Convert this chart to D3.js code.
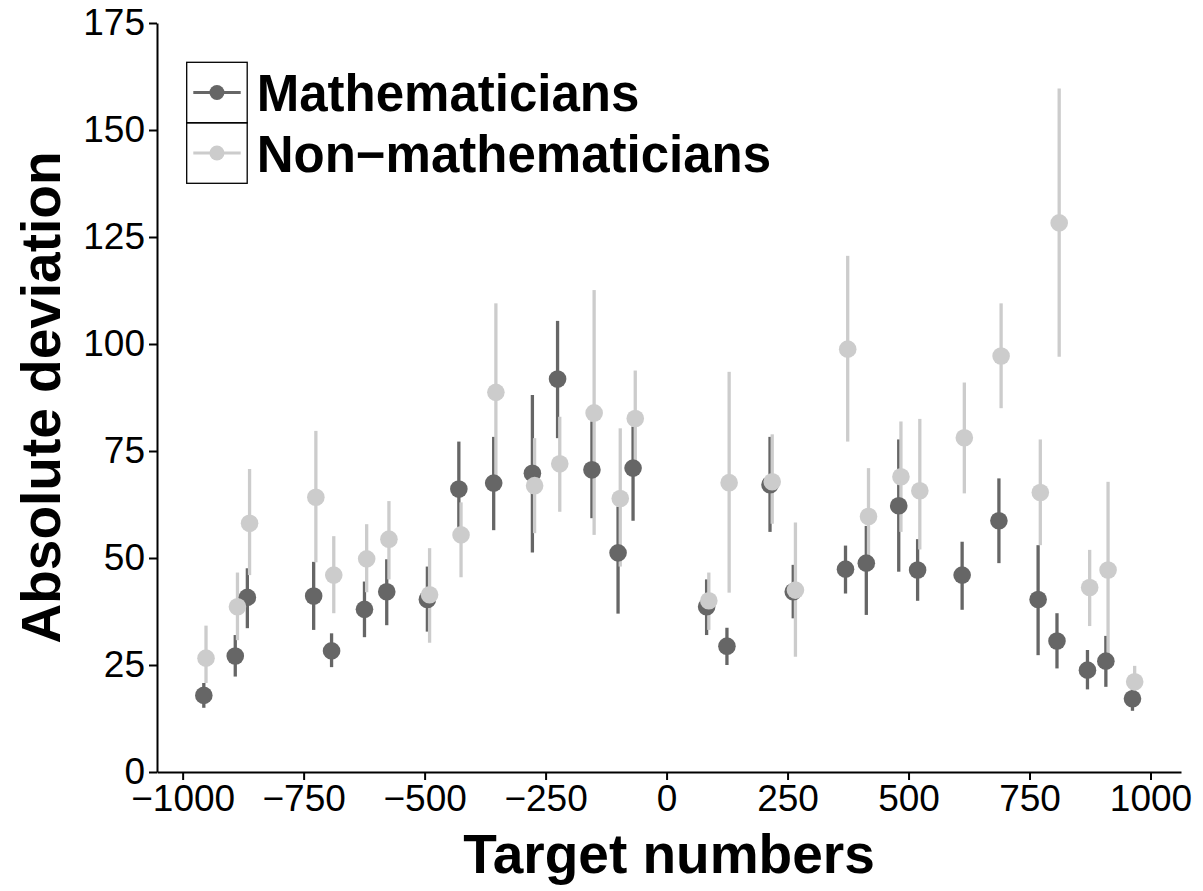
<!DOCTYPE html>
<html>
<head>
<meta charset="utf-8">
<script src="https://cdn.jsdelivr.net/npm/d3@7"></script>
<style>
  body { margin: 0; background: #fff; }
  .ejes text { font-family: "Liberation Sans", Arial, sans-serif; font-size: 37px; fill: #000; }
  .ejes path, .ejes line { stroke: #000; stroke-width: 2; }
  .labels { font-family: "Liberation Sans", Arial, sans-serif; font-size: 55px; font-weight: bold; }
  .leyenda { font-family: "Liberation Sans", Arial, sans-serif; font-size: 51px; font-weight: bold; }
</style>
</head>
<body>
<div id="graf"></div>
<script>
// datos: numero objetivo, media y extremos de la barra de error
const targets = [-954, -889, -864, -727, -690, -622, -576, -492, -427, -355, -275, -223, -152, -98, -67,
  85, 127, 216, 264, 372, 415, 482, 521, 613, 689, 770, 809, 872, 910, 965]

const mathMean = [17.9, 27.1, 40.8, 41.1, 28.3, 38.0, 42.1, 40.3, 66.1, 67.5, 69.8, 91.8, 70.6, 51.2, 71.0,
  38.6, 29.4, 67.1, 42.1, 47.4, 48.8, 62.2, 47.2, 46.0, 58.7, 40.3, 30.6, 23.8, 25.9, 17.1]
const mathLow = [15.0, 22.3, 33.6, 33.2, 24.5, 31.5, 34.3, 32.8, 55.0, 56.5, 51.3, 78.0, 59.3, 37.0, 58.7,
  32.0, 25.0, 56.1, 35.9, 41.7, 36.7, 46.8, 40.0, 37.9, 48.8, 27.3, 24.2, 19.3, 19.9, 14.3]
const mathHigh = [20.8, 32.0, 47.6, 49.1, 32.4, 44.5, 49.7, 48.0, 77.2, 78.3, 88.1, 105.4, 81.9, 62.0, 80.7,
  45.0, 33.7, 78.3, 48.4, 52.9, 57.5, 77.7, 54.4, 53.8, 68.6, 53.0, 37.1, 28.5, 31.8, 20.7]

const nonMean = [26.6, 38.6, 58.1, 64.2, 46.0, 49.8, 54.4, 41.4, 55.4, 88.7, 66.9, 72.0, 83.9, 63.9, 82.6,
  40.0, 67.6, 67.8, 42.5, 98.8, 59.7, 69.0, 65.7, 78.1, 97.2, 65.3, 128.3, 43.1, 47.2, 21.1]
const nonLow = [20.8, 30.8, 46.0, 49.0, 37.1, 42.0, 45.0, 30.2, 45.5, 68.0, 55.8, 60.8, 55.4, 48.0, 70.0,
  33.2, 41.9, 58.0, 26.9, 77.2, 50.0, 56.1, 52.0, 65.1, 85.0, 53.0, 97.0, 34.1, 27.0, 17.6]
const nonHigh = [34.2, 46.6, 70.8, 79.7, 55.1, 57.9, 63.3, 52.3, 63.0, 109.5, 78.0, 83.0, 112.6, 80.3, 93.8,
  46.6, 93.5, 78.9, 58.3, 120.6, 71.0, 81.9, 82.5, 91.0, 109.5, 77.7, 159.7, 51.9, 67.8, 24.8]

const grupos = ["Mathematicians", "Non\u2212mathematicians"]
const colores = ["#666666", "#cccccc"]
const xTicks = [-1000, -750, -500, -250, 0, 250, 500, 750, 1000]
const yTicks = [0, 25, 50, 75, 100, 125, 150, 175]

const graf = d3.select("#graf")

// dimensiones
const margins = { left: 157, top: 23, right: 22, bottom: 119 }
const anchoTotal = 1203
const altoTotal = 891
const ancho = anchoTotal - margins.left - margins.right
const alto = altoTotal - margins.top - margins.bottom

const svg = graf
  .append("svg")
  .attr("width", anchoTotal)
  .attr("height", altoTotal)

const g = svg
  .append("g")
  .attr("transform", `translate(${margins.left}, ${margins.top})`)

// escalas
const x = d3.scaleLinear().domain([-1053, 1063]).range([0, ancho])
const y = d3.scaleLinear().domain([0, 175]).range([alto, 0])
const color = d3.scaleOrdinal().domain(grupos).range(colores)

const xAxis = d3.axisBottom(x).tickValues(xTicks).tickFormat(d3.format("d"))
  .tickSize(8).tickSizeOuter(0).tickPadding(5)
const yAxis = d3.axisLeft(y).tickValues(yTicks).tickFormat(d3.format("d"))
  .tickSize(8).tickSizeOuter(0).tickPadding(4)

// tabla larga: una fila por grupo y numero objetivo
const data = []
targets.forEach((t, i) => {
  data.push({ grupo: grupos[0], target: t, value: mathMean[i], low: mathLow[i], high: mathHigh[i], dodge: -1.1 })
})
targets.forEach((t, i) => {
  data.push({ grupo: grupos[1], target: t, value: nonMean[i], low: nonLow[i], high: nonHigh[i], dodge: 1.1 })
})

g.append("g")
  .attr("transform", `translate(0, ${alto})`)
  .attr("class", "ejes")
  .call(xAxis)
g.append("g").attr("class", "ejes").call(yAxis)

g.append("text")
  .attr("x", ancho / 2)
  .attr("y", alto + 101)
  .attr("text-anchor", "middle")
  .attr("class", "labels")
  .text("Target numbers")

g.append("g")
  .attr("transform", `translate(${60 - margins.left}, ${alto / 2})`)
  .append("text")
  .attr("transform", "rotate(-90)")
  .attr("text-anchor", "middle")
  .attr("class", "labels")
  .text("Absolute deviation")

// barras de error primero, luego los puntos (como pointrange)
g.selectAll("line.err").data(data)
  .enter()
  .append("line")
  .attr("class", "err")
  .attr("x1", (d) => x(d.target) + d.dodge)
  .attr("x2", (d) => x(d.target) + d.dodge)
  .attr("y1", (d) => y(d.low))
  .attr("y2", (d) => y(d.high))
  .attr("stroke", (d) => color(d.grupo))
  .attr("stroke-width", 3.3)

g.selectAll("circle").data(data)
  .enter()
  .append("circle")
  .attr("cx", (d) => x(d.target) + d.dodge)
  .attr("cy", (d) => y(d.value))
  .attr("r", 8.8)
  .attr("fill", (d) => color(d.grupo))

// leyenda
const leyenda = svg.append("g").attr("transform", "translate(186.7, 62.3)")
const key = 60.5
grupos.forEach((gr, i) => {
  const item = leyenda.append("g").attr("transform", `translate(0, ${i * key})`)
  item.append("rect")
    .attr("width", key)
    .attr("height", key)
    .attr("fill", "none")
    .attr("stroke", "#000")
    .attr("stroke-width", 1.3)
  item.append("line")
    .attr("x1", 6.6)
    .attr("x2", 54)
    .attr("y1", key / 2)
    .attr("y2", key / 2)
    .attr("stroke", color(gr))
    .attr("stroke-width", 3)
  item.append("circle")
    .attr("cx", key / 2)
    .attr("cy", key / 2)
    .attr("r", 7.5)
    .attr("fill", color(gr))
  item.append("text")
    .attr("x", 70)
    .attr("y", key / 2 + 18.6)
    .attr("class", "leyenda")
    .text(gr)
})
</script>
</body>
</html>
